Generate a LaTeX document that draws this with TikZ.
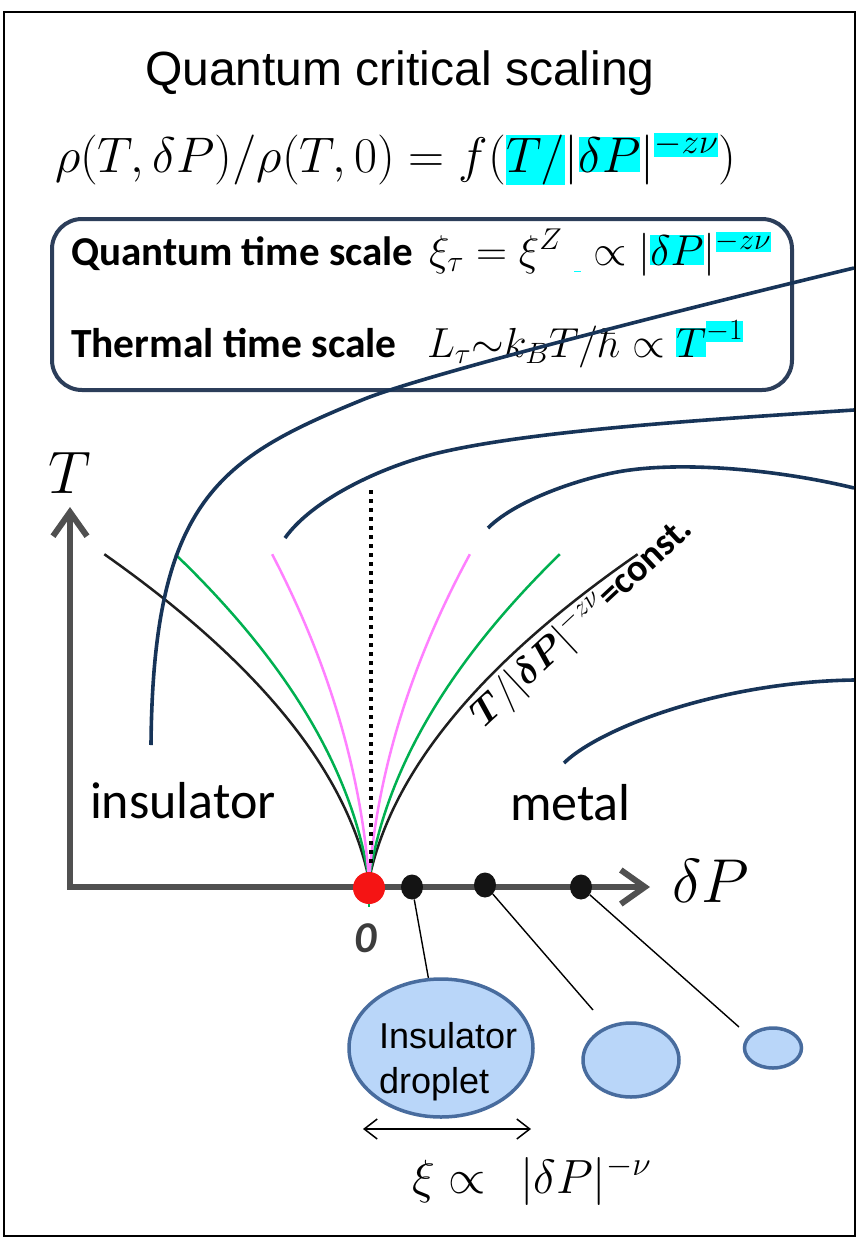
\RequirePackage{fix-cm}
\documentclass[tikz,border=0pt]{standalone}
\usepackage[no-math]{fontspec}
\newfontfamily\arialf{Liberation Sans}
\newfontfamily\calf{Carlito}
\usepackage{bm}
\usetikzlibrary{arrows.meta,shapes.geometric}
\definecolor{hlc}{RGB}{0,255,255}
\definecolor{pinkc}{RGB}{255,128,255}
\definecolor{greenc}{RGB}{0,176,80}
\definecolor{axgray}{RGB}{80,80,80}
\definecolor{darkc}{RGB}{23,52,88}
\definecolor{boxc}{RGB}{44,62,90}
\definecolor{dropfill}{RGB}{185,214,249}
\definecolor{dropline}{RGB}{72,108,158}
\definecolor{redc}{RGB}{245,20,20}
\definecolor{zeroc}{RGB}{60,60,60}
\newcommand{\hlbox}[1]{{\setlength{\fboxsep}{0pt}\colorbox{hlc}{#1}}}
\tikzset{
  txt/.style={inner sep=0pt, outer sep=0pt},
  axisline/.style={line width=6pt, draw=axgray},
  fanblack/.style={line width=2.5pt, draw=black!88},
  fangreen/.style={line width=2.5pt, draw=greenc},
  fanpink/.style={line width=2.5pt, draw=pinkc},
  darkcurve/.style={line width=3.6pt, draw=darkc},
  blackdot/.style={ellipse, fill=black!92, minimum width=22pt, minimum height=25pt, inner sep=0pt},
  reddot/.style={circle, fill=redc, minimum size=32pt, inner sep=0pt},
  droplet/.style={ellipse, draw=dropline, fill=dropfill, line width=3.5pt, inner sep=0pt},
  conn/.style={line width=1.4pt, draw=black},
}
\begin{document}
\begin{tikzpicture}[x=1pt,y=-1pt]
\useasboundingbox (0,0) rectangle (859,1239);
\fill[white] (0,0) rectangle (859,1239);
% frame
\draw[line width=2.5pt] (4,12) rectangle (855,1236);
% title
\node[txt, anchor=base] (title) at (400,85) {\arialf\fontsize{48}{56}\selectfont Quantum critical scaling};
% scaling formula
\node[txt, anchor=base west] (formula) at (55,172) {\fontsize{50}{60}\selectfont $\rho(T,\delta P)/\rho(T,0) = f(\hlbox{$T/$}|\hlbox{$\delta P$}|^{\hlbox{$\scriptstyle -z\nu$}})$};
% time scale box
\node[draw=boxc, line width=4pt, rounded corners=30pt, minimum width=740pt, minimum height=171pt, inner sep=0pt] (scalebox) at (422,304.5) {};
\node[txt, anchor=base west] (qlab) at (71,265) {\calf\bfseries\fontsize{41}{50}\selectfont Quantum time scale};
\node[txt, anchor=base west] (qmath) at (429,265) {\fontsize{43}{50}\selectfont $\xi_\tau = \xi^{Z}\;\raisebox{-7pt}{\hlbox{\rule{0pt}{1.5pt}\hspace{7pt}}}\propto |\hlbox{$\delta P$}|^{\hlbox{$\scriptstyle -z\nu$}}$};
\node[txt, anchor=base west] (tlab) at (71,357) {\calf\bfseries\fontsize{41.5}{50}\selectfont Thermal time scale};
\node[txt, anchor=base west] (tmath) at (427,357) {\fontsize{42}{50}\selectfont $L_\tau{\sim}k_B T/\hbar \propto \hlbox{$T$}^{\hlbox{$\scriptstyle -1$}}$};
% fan of crossover curves  (T ~ |dP|^(1/2)-like)
\draw[fanblack] plot[domain=0:1, samples=60, variable=\s] ({369-265*(0.25*\s+0.75*\s*\s)}, {880-326*\s});
\draw[fanblack] plot[domain=0:1, samples=60, variable=\s] ({369+269*(0.25*\s+0.75*\s*\s)}, {880-326*\s});
\draw[fangreen] plot[domain=0:1, samples=60, variable=\s] ({369-194*(0.25*\s+0.75*\s*\s)}, {880-326*\s});
\draw[fangreen] plot[domain=0:1, samples=60, variable=\s] ({369+191*(0.25*\s+0.75*\s*\s)}, {880-326*\s});
\draw[fanpink] plot[domain=0:1, samples=60, variable=\s] ({369-97*(0.25*\s+0.75*\s*\s)}, {880-326*\s});
\draw[fanpink] plot[domain=0:1, samples=60, variable=\s] ({369+101*(0.25*\s+0.75*\s*\s)}, {880-326*\s});
\draw[greenc, line width=2.5pt] (369,880) -- (369,907);
% dotted critical line
\draw[line width=4pt, dash pattern=on 4pt off 5pt] (371,490) -- (371,864);
% axes
\coordinate (ytip) at (70,507);
\coordinate (orig) at (70,887);
\coordinate (xtip) at (650,887);
\draw[axisline, {Straight Barb[length=24pt,width=34pt]}-{Straight Barb[length=24pt,width=34pt]}] (ytip) -- (orig) -- (xtip);
% points
\node[reddot] (qcp) at (369,888) {};
\node[blackdot] (d1) at (412,887) {};
\node[blackdot] (d2) at (485,885) {};
\node[blackdot] (d3) at (581,887) {};
% dark connector curves
\coordinate (a0) at (151,745); \coordinate (a1) at (362,400); \coordinate (a2) at (854,268);
\draw[darkcurve] (a0) .. controls (153,500) and (220,458) .. (a1) .. controls (422,375) and (704,304) .. (a2);
\coordinate (b0) at (285,538); \coordinate (b1) at (438,453); \coordinate (b2) at (854,410);
\draw[darkcurve] (b0) .. controls (312,500) and (380,467) .. (b1) .. controls (538,429) and (734,418) .. (b2);
\coordinate (c0) at (488,528); \coordinate (c1) at (630,470); \coordinate (cc) at (854,488);
\draw[darkcurve] (c0) .. controls (518,498) and (590,475) .. (c1) .. controls (690,462) and (780,470) .. (cc);
\coordinate (dd0) at (564,763); \coordinate (dd1) at (854,680);
\draw[darkcurve] (dd0) .. controls (600,728) and (720,682) .. (dd1);
% labels
\node[txt, anchor=base] (Tlab) at (70,493) {\fontsize{60}{70}\selectfont $T$};
\node[txt, anchor=base west] (dPlab) at (672,902) {\fontsize{62}{70}\selectfont $\delta P$};
\node[txt, anchor=base west] (ins) at (90,818) {\calf\fontsize{52}{60}\selectfont insulator};
\node[txt, anchor=base west] (met) at (510,820) {\calf\fontsize{52}{60}\selectfont metal};
\node[txt, anchor=base, text=zeroc] (zero) at (366,952) {\calf\bfseries\itshape\fontsize{44}{50}\selectfont 0};
\node[txt, anchor=base west, rotate=43] (constlab) at (484,728) {\fontsize{38}{44}\selectfont $\bm{T}/|\bm{\delta P}|^{-z\nu}$\calf\bfseries =const.};
% droplets
\node[droplet, minimum width=184pt, minimum height=138pt] (e1) at (441,1048) {};
\node[droplet, minimum width=96pt, minimum height=74pt] (e2) at (631,1060) {};
\node[droplet, minimum width=57pt, minimum height=40pt] (e3) at (773,1048) {};
\node[txt, anchor=base west, align=left, font=\arialf\fontsize{36}{45}\selectfont] (droptxt) at (379,1093) {Insulator\\droplet};
\coordinate (c2) at (593,1010);
\coordinate (c3) at (739,1027);
\draw[conn] (d1) -- (e1);
\draw[conn] (d2) -- (c2);
\draw[conn] (d3) -- (c3);
% correlation length
\coordinate (xl) at (363,1129);
\coordinate (xr) at (531,1129);
\draw[line width=1.5pt, {Straight Barb[length=13pt,width=20pt]}-{Straight Barb[length=13pt,width=20pt]}] (xl) -- (xr);
\node[txt, anchor=base west] (xilab) at (412,1193) {\fontsize{48}{56}\selectfont $\xi \propto\;\, |\delta P|^{-\nu}$};
\end{tikzpicture}
\end{document}
